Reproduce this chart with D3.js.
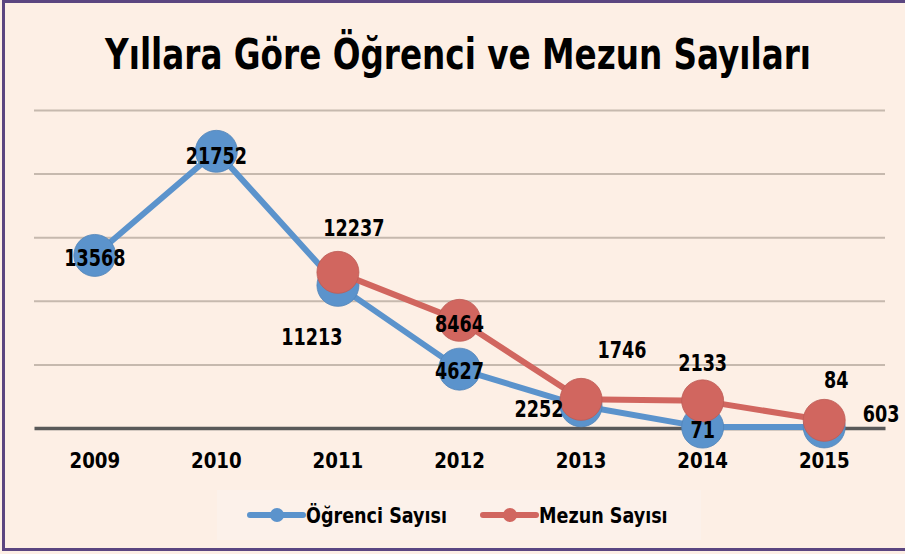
<!DOCTYPE html>
<html>
<head>
<meta charset="utf-8">
<script src="https://cdn.jsdelivr.net/npm/d3@7"></script>
<style>
  body { margin: 0; background: #fdefe5; }
  svg { display: block; }
  text { font-family: "DejaVu Sans Condensed", "DejaVu Sans", sans-serif; font-weight: bold; fill: #000; }
</style>
</head>
<body>
<div class="chart"></div>
<script>
// chart data
var years = ["2009", "2010", "2011", "2012", "2013", "2014", "2015"];
var ogrenci = [13568, 21752, 11213, 4627, 1746, 71, 84];
var mezun = [null, null, 12237, 8464, 2252, 2133, 603];
var yTicks = [0, 5000, 10000, 15000, 20000, 25000];
var seriesNames = ["Öğrenci Sayısı", "Mezun Sayısı"];

// label nudges, Excel put them in odd spots
var blueOffsets = [[0, 2], [0, 4], [-26, 51], [0, 2], [41, -56], [0, 3], [12, -47]];
var redOffsets = [null, null, [16, -45], [0, 3], [-42, 9], [0, -38], [57, -7]];

var svgWidth = 905, svgHeight = 554;
var margin = { top: 110, right: 20, bottom: 126, left: 34 };

// squeeze text horizontally, the original font is a narrow one
function narrow(sel, f) {
    sel.each(function() {
        var w = this.getComputedTextLength();
        d3.select(this)
            .attr("textLength", w * f)
            .attr("lengthAdjust", "spacingAndGlyphs");
    });
}

var svg = d3.select(".chart")
    .append("svg")
    .attr("width", svgWidth)
    .attr("height", svgHeight);

// background + frame
svg.append("rect")
    .attr("x", 0).attr("y", 0)
    .attr("width", svgWidth).attr("height", svgHeight)
    .attr("fill", "#fdefe5");
svg.append("path")
    .attr("d", "M905,1.5 H3.5 V549.5 H905")
    .attr("fill", "none")
    .attr("stroke", "#5b4580")
    .attr("stroke-width", 3);

// title, scaled down sideways to the 706px it has in the original
var title = svg.append("text")
    .attr("text-anchor", "middle")
    .attr("font-size", 42)
    .text("Yıllara Göre Öğrenci ve Mezun Sayıları");
var tw = title.node().getComputedTextLength();
title.attr("transform", `translate(458,69) scale(${706 / tw},1)`);

var chartWidth = 885 - margin.left;
var xScale = d3.scaleBand()
    .domain(years)
    .range([margin.left, margin.left + chartWidth]);
var xc = d => xScale(d) + xScale.bandwidth() / 2;

var yScale = d3.scaleLinear()
    .domain([0, 25000])
    .range([428, 110]);

// gridlines
var yAxis = d3.axisLeft(yScale)
    .tickValues(yTicks.slice(1))
    .tickSize(-chartWidth)
    .tickFormat("");
var gridG = svg.append("g")
    .attr("transform", `translate(${margin.left},0)`)
    .call(yAxis);
gridG.select(".domain").remove();
gridG.selectAll(".tick line")
    .attr("stroke", "#c6b9ae")
    .attr("stroke-width", 2);

// x axis
var xAxis = d3.axisBottom(xScale).tickSize(0).tickPadding(24);
var xG = svg.append("g")
    .attr("transform", `translate(0, ${yScale(0)})`)
    .call(xAxis);
xG.select(".domain")
    .attr("stroke", "#595959")
    .attr("stroke-width", 3.5);
xG.selectAll(".tick text")
    .attr("font-size", 22)
    .attr("font-family", null)
    .attr("fill", "#000")
    .call(narrow, 0.92);

var blue = "#5b93cc", red = "#d1665f";

function drawSeries(values, color, offsets) {
    var pts = years.map((y, i) => ({ year: y, v: values[i], off: offsets[i] }))
        .filter(d => d.v !== null);
    var line = d3.line()
        .x(d => xc(d.year))
        .y(d => yScale(d.v));
    svg.append("path")
        .datum(pts)
        .attr("d", line)
        .attr("fill", "none")
        .attr("stroke", color)
        .attr("stroke-width", 6)
        .attr("stroke-linejoin", "round");
    svg.append("g").selectAll("circle")
        .data(pts)
        .enter()
        .append("circle")
        .attr("cx", d => xc(d.year))
        .attr("cy", d => yScale(d.v))
        .attr("r", 21)
        .attr("fill", color)
        .attr("stroke", d3.color(color).darker(0.3))
        .attr("stroke-width", 0.8);
    return pts;
}

var bluePts = drawSeries(ogrenci, blue, blueOffsets);
var redPts = drawSeries(mezun, red, redOffsets);

// data labels on top of everything
function drawLabels(pts) {
    svg.append("g").selectAll("text")
        .data(pts)
        .enter()
        .append("text")
        .attr("x", d => xc(d.year) + d.off[0])
        .attr("y", d => yScale(d.v) + d.off[1])
        .attr("dy", "0.36em")
        .attr("text-anchor", "middle")
        .attr("font-size", 23)
        .text(d => d.v)
        .call(narrow, 0.85);
}
drawLabels(bluePts);
drawLabels(redPts);

// legend
var legend = svg.append("g");
legend.append("rect")
    .attr("x", 217).attr("y", 490)
    .attr("width", 484).attr("height", 50)
    .attr("fill", "#fcf1ea");
var legendItems = [
    { name: seriesNames[0], color: blue, x: 250 },
    { name: seriesNames[1], color: red, x: 483 }
];
legendItems.forEach(function(it) {
    legend.append("line")
        .attr("x1", it.x).attr("x2", it.x + 53)
        .attr("y1", 515).attr("y2", 515)
        .attr("stroke", it.color)
        .attr("stroke-width", 6)
        .attr("stroke-linecap", "round");
    legend.append("circle")
        .attr("cx", it.x + 27).attr("cy", 515)
        .attr("r", 7)
        .attr("fill", it.color);
    legend.append("text")
        .attr("x", it.x + 56)
        .attr("y", 523)
        .attr("font-size", 21)
        .text(it.name)
        .call(narrow, 0.93);
});
</script>
</body>
</html>
